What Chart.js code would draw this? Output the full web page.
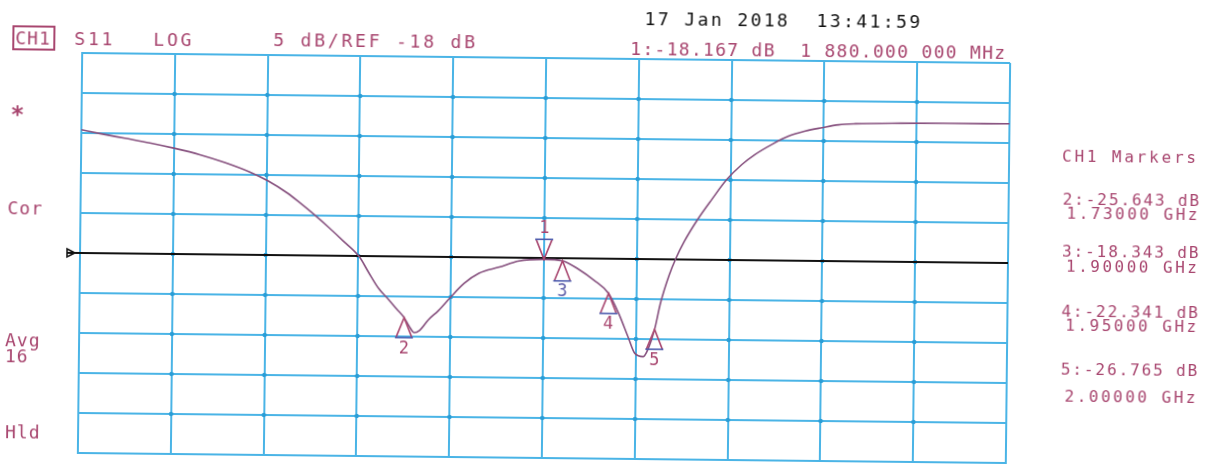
<!DOCTYPE html>
<html>
<head>
<meta charset="utf-8">
<script src="https://cdn.jsdelivr.net/npm/chart.js@4.4.1/dist/chart.umd.min.js"></script>
<style>
  html, body { margin: 0; padding: 0; background: #fff; overflow: hidden; }
  #page {
    position: relative; width: 1209px; height: 466px;
    transform: rotate(0.62deg); transform-origin: 544px 258px;
  }
  #graphique { position: absolute; left: 0; top: 0; }
  .t {
    position: absolute; white-space: pre; line-height: 20px;
    font-family: "DejaVu Sans Mono", monospace; font-size: 18px;
    color: #a8466f; letter-spacing: 1px;
  }
  .hdr { letter-spacing: 2.8px; }
  .lecture { letter-spacing: 1.3px; }
  .date { color: #111; letter-spacing: 2.4px; }
  .boite { border: 2px solid #a8466f; line-height: 13px; padding: 0 2px 0 1px; letter-spacing: 1px; }
  .etoile { font-size: 23px; font-weight: bold; }
  .m { font-size: 16px; }
  .titre { letter-spacing: 2.8px; }
  .db { letter-spacing: 1.9px; }
  .ghz { letter-spacing: 2.5px; }
</style>
</head>
<body>
<div id="page">
  <canvas id="graphique" width="1209" height="466"></canvas>

  <div class="t hdr" style="left:10px; top:34px;"><span class="boite">CH1</span></div>
  <div class="t hdr" style="left:72px; top:34px;">S11</div>
  <div class="t hdr" style="left:151px; top:34px;">LOG</div>
  <div class="t hdr" style="left:271px; top:33px;">5 dB/REF -18 dB</div>

  <div class="t date" style="left:642px; top:8px;">17 Jan 2018  13:41:59</div>
  <div class="t lecture" style="left:628px; top:38px;">1:-18.167 dB  1 880.000 000 MHz</div>

  <div class="t etoile" style="left:9px; top:110px;">*</div>
  <div class="t" style="left:7px; top:204px;">Cor</div>
  <div class="t" style="left:6px; top:336px;">Avg</div>
  <div class="t" style="left:6px; top:352px;">16</div>
  <div class="t" style="left:7px; top:428px;">Hld</div>

  <div class="t m titre" style="left:1061px; top:141px;">CH1 Markers</div>
  <div class="t m db" style="left:1062px; top:184px;">2:-25.643 dB</div>
  <div class="t m ghz" style="left:1066px; top:198px;">1.73000 GHz</div>
  <div class="t m db" style="left:1062px; top:236px;">3:-18.343 dB</div>
  <div class="t m ghz" style="left:1066px; top:251px;">1.90000 GHz</div>
  <div class="t m db" style="left:1062px; top:296px;">4:-22.341 dB</div>
  <div class="t m ghz" style="left:1066px; top:310px;">1.95000 GHz</div>
  <div class="t m db" style="left:1062px; top:354px;">5:-26.765 dB</div>
  <div class="t m ghz" style="left:1066px; top:381px;">2.00000 GHz</div>
</div>

<script>
const canvas = document.getElementById("graphique");

const freqGHz = [1.380, 1.400, 1.427, 1.454, 1.481, 1.508, 1.535, 1.562, 1.582, 1.603,
    1.616, 1.632, 1.648, 1.664, 1.681, 1.691, 1.702, 1.713, 1.722, 1.730,
    1.736, 1.741, 1.747, 1.756, 1.767, 1.780, 1.794, 1.810, 1.832, 1.853,
    1.880, 1.900, 1.918, 1.934, 1.950, 1.961, 1.972, 1.979, 1.988, 1.993,
    2.000, 2.006, 2.015, 2.022, 2.031, 2.045, 2.060, 2.076, 2.092, 2.106,
    2.124, 2.142, 2.160, 2.178, 2.196, 2.214, 2.263, 2.316, 2.380];
const s11dB = [-2.6, -3.05, -3.6, -4.15, -4.8, -5.55, -6.5, -7.65, -8.75, -10.25,
    -11.4, -12.9, -14.5, -16.2, -18.1, -20.0, -22.0, -23.4, -24.6, -25.64,
    -26.8, -27.5, -27.2, -25.9, -24.7, -23.0, -21.3, -20.0, -19.2, -18.4,
    -18.17, -18.34, -19.4, -20.7, -22.34, -24.8, -27.9, -29.8, -30.2, -29.3,
    -26.77, -23.5, -20.0, -17.9, -15.74, -13.0, -10.48, -7.95, -6.06, -4.79,
    -3.51, -2.45, -1.79, -1.34, -0.95, -0.8, -0.67, -0.62, -0.6];

// Marqueurs
const markerIds = [1, 2, 3, 4, 5];
const markerFreq = [1.88, 1.73, 1.90, 1.95, 2.00];
const markerDb = [-18.167, -25.643, -18.343, -22.341, -26.765];

// Graduations : 10 divisions, 5 dB/div, REF -18 dB au centre
const refLevel = -18;
const freqTicks = [1.38, 1.48, 1.58, 1.68, 1.78, 1.88, 1.98, 2.08, 2.18, 2.28, 2.38];
const dbTicks = [-43, -38, -33, -28, -23, -18, -13, -8, -3, 2, 7];

const bleuGrille = '#4ab4e6';
const magenta = '#a8466f';

const pluginPoints = {
    // petits points aux intersections de la grille
    id: 'points',
    beforeDatasetsDraw(chart) {
        const { ctx, scales: { x, y } } = chart;
        ctx.save();
        ctx.fillStyle = '#2a9dd6';
        freqTicks.slice(1, -1).forEach(f => {
            dbTicks.slice(1, -1).forEach(d => {
                ctx.beginPath();
                ctx.arc(x.getPixelForValue(f), y.getPixelForValue(d), 2.2, 0, Math.PI * 2);
                ctx.fill();
            });
        });
        ctx.restore();
    }
};

const pluginMarqueurs = {
    id: 'marqueurs',
    afterDatasetsDraw(chart) {
        const { ctx, scales: { x, y }, chartArea } = chart;
        ctx.save();

        // repère du niveau de référence à gauche
        const yRef = y.getPixelForValue(refLevel);
        ctx.strokeStyle = '#111';
        ctx.lineWidth = 2;
        ctx.beginPath();
        ctx.moveTo(67, yRef);
        ctx.lineTo(chartArea.left, yRef);
        ctx.stroke();
        ctx.lineWidth = 1.5;
        ctx.beginPath();
        ctx.moveTo(67, yRef - 4);
        ctx.lineTo(67, yRef + 4);
        ctx.lineTo(75, yRef);
        ctx.closePath();
        ctx.stroke();

        ctx.font = '17px "DejaVu Sans Mono"';
        ctx.textAlign = 'center';
        ctx.textBaseline = 'middle';
        markerIds.forEach((id, i) => {
            const px = x.getPixelForValue(markerFreq[i]);
            const py = y.getPixelForValue(markerDb[i]);
            const sens = id === 1 ? -1 : 1;
            ctx.strokeStyle = magenta;
            ctx.lineWidth = 1.6;
            ctx.beginPath();
            ctx.moveTo(px - 8, py + sens * 20);
            ctx.lineTo(px, py);
            ctx.lineTo(px + 8, py + sens * 20);
            ctx.stroke();
            ctx.strokeStyle = '#4d5cae';
            ctx.beginPath();
            ctx.moveTo(px - 9, py + sens * 20);
            ctx.lineTo(px + 9, py + sens * 20);
            ctx.stroke();
            ctx.fillStyle = id === 3 ? '#5a5aa6' : magenta;
            ctx.fillText(String(id), px, py + sens * 31);
        });
        ctx.restore();
    }
};

new Chart(canvas.getContext('2d'), {
    type: 'line',
    data: {
        datasets: [
            {
                label: 'S11',
                data: freqGHz.map((f, i) => ({ x: f, y: s11dB[i] })),
                borderColor: '#86507e',
                borderWidth: 1.6,
                pointRadius: 0,
                cubicInterpolationMode: 'monotone',
            },
            {
                label: 'REF',
                data: [{ x: freqTicks[0], y: refLevel }, { x: freqTicks[freqTicks.length - 1], y: refLevel }],
                borderColor: '#111',
                borderWidth: 2,
                pointRadius: 0,
            },
        ],
    },
    options: {
        responsive: false,
        animation: false,
        devicePixelRatio: 1,
        layout: { padding: { left: 80, right: 201, top: 58, bottom: 8 } },
        plugins: { legend: { display: false }, tooltip: { enabled: false } },
        scales: {
            x: {
                type: 'linear',
                min: freqTicks[0],
                max: freqTicks[freqTicks.length - 1],
                afterBuildTicks: axis => { axis.ticks = freqTicks.map(v => ({ value: v })); },
                ticks: { display: false },
                grid: { color: bleuGrille, lineWidth: 2, drawTicks: false },
                border: { color: bleuGrille, width: 2 },
            },
            y: {
                type: 'linear',
                min: dbTicks[0],
                max: dbTicks[dbTicks.length - 1],
                afterBuildTicks: axis => { axis.ticks = dbTicks.map(v => ({ value: v })); },
                ticks: { display: false },
                grid: { color: bleuGrille, lineWidth: 2, drawTicks: false },
                border: { color: bleuGrille, width: 2 },
            },
        },
    },
    plugins: [pluginPoints, pluginMarqueurs],
});
</script>
</body>
</html>
